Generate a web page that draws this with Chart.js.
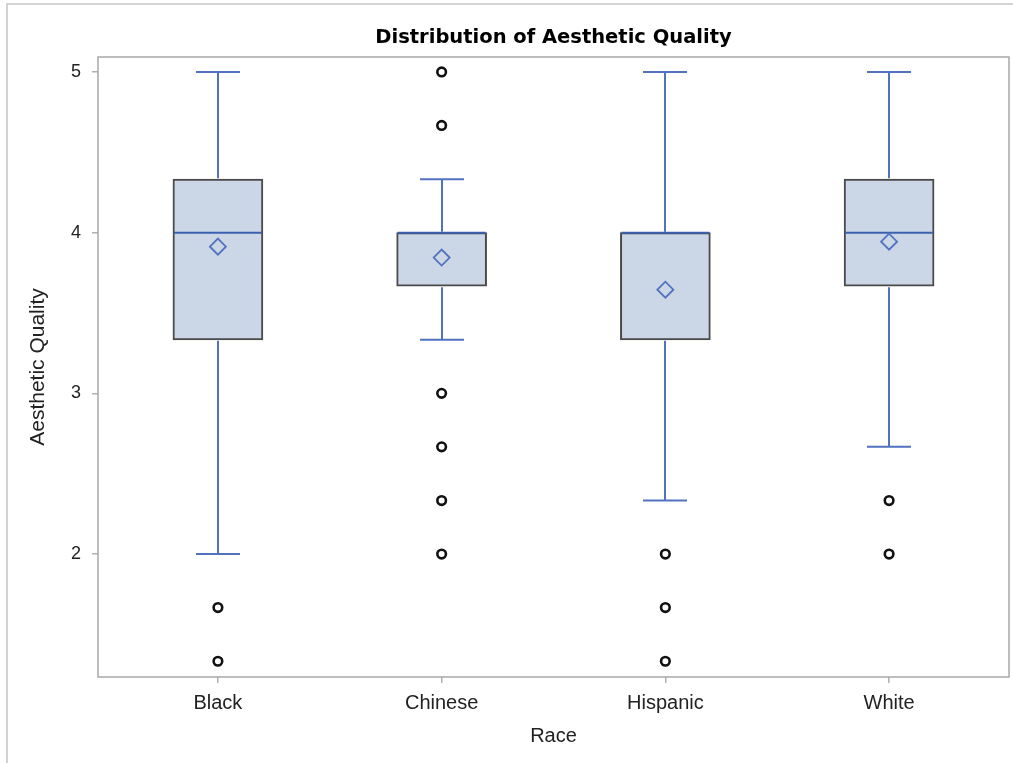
<!DOCTYPE html>
<html>
<head>
<meta charset="utf-8">
<title>Distribution of Aesthetic Quality</title>
<script src="https://cdn.jsdelivr.net/npm/chart.js@4"></script>
<style>
  html, body { margin: 0; padding: 0; background: #ffffff; overflow: hidden; }
  #wrap { width: 1013px; height: 763px; position: relative; }
</style>
</head>
<body>
<div id="wrap"><canvas id="chart"></canvas></div>
<script>
// Box-plot summary per group
const categories  = ['Black', 'Chinese', 'Hispanic', 'White'];
const whiskerLow  = [2.000, 3.333, 2.333, 2.667];
const q1          = [3.333, 3.667, 3.333, 3.667];
const median      = [4.000, 4.000, 4.000, 4.000];
const q3          = [4.333, 4.000, 4.000, 4.333];
const whiskerHigh = [5.000, 4.333, 5.000, 5.000];
const means       = [3.913, 3.845, 3.645, 3.944];
const outliers    = [
  [1.667, 1.333],
  [5.000, 4.667, 3.000, 2.667, 2.333, 2.000],
  [2.000, 1.667, 1.333],
  [2.333, 2.000]
];
const yTicks = [2, 3, 4, 5];

const FONT = "'Liberation Sans', Arial, sans-serif";
const TITLE_FONT = "'DejaVu Sans', Verdana, sans-serif";
const BLUE = '#5272c0';
const MEDIAN_BLUE = '#3d5fb0';

const boxData = categories.map((c, i) => ({ x: i, y: [q1[i], q3[i]] }));
const meanData = categories.map((c, i) => ({ x: i, y: means[i] }));
const outlierData = [];
outliers.forEach((list, i) => list.forEach(v => outlierData.push({ x: i, y: v })));

// Whiskers, caps and medians drawn on top of the boxes
const boxParts = {
  id: 'boxParts',
  afterDatasetDraw(chart, args) {
    if (args.index !== 0) return;
    const { ctx, scales: { x, y } } = chart;
    const halfCap = 22, halfBox = 45;
    ctx.save();
    ctx.lineWidth = 2;
    ctx.strokeStyle = BLUE;
    categories.forEach((c, i) => {
      const cx = Math.round(x.getPixelForValue(i));
      const pHi = y.getPixelForValue(whiskerHigh[i]);
      const pQ3 = y.getPixelForValue(q3[i]);
      const pQ1 = y.getPixelForValue(q1[i]);
      const pLo = y.getPixelForValue(whiskerLow[i]);
      ctx.beginPath();
      ctx.moveTo(cx, pQ3 - 1); ctx.lineTo(cx, pHi);
      ctx.moveTo(cx - halfCap, pHi); ctx.lineTo(cx + halfCap, pHi);
      ctx.moveTo(cx, pQ1 + 1); ctx.lineTo(cx, pLo);
      ctx.moveTo(cx - halfCap, pLo); ctx.lineTo(cx + halfCap, pLo);
      ctx.stroke();
    });
    ctx.strokeStyle = MEDIAN_BLUE;
    categories.forEach((c, i) => {
      const cx = x.getPixelForValue(i);
      const pM = y.getPixelForValue(median[i]);
      ctx.beginPath();
      ctx.moveTo(cx - halfBox + 1, pM); ctx.lineTo(cx + halfBox - 1, pM);
      ctx.stroke();
    });
    ctx.restore();
  }
};

// Plot frame and the outer panel border
const frames = {
  id: 'frames',
  beforeDraw(chart) {
    const { ctx } = chart;
    ctx.save();
    ctx.strokeStyle = '#d3d3d3';
    ctx.lineWidth = 2;
    ctx.beginPath();
    ctx.moveTo(1013, 4); ctx.lineTo(7, 4); ctx.lineTo(7, 763);
    ctx.stroke();
    ctx.restore();
  },
  beforeDatasetsDraw(chart) {
    const { ctx, chartArea: a } = chart;
    ctx.save();
    ctx.strokeStyle = '#a8a8a8';
    ctx.lineWidth = 1.5;
    ctx.strokeRect(a.left, a.top, a.right - a.left, a.bottom - a.top);
    ctx.restore();
  }
};

new Chart(document.getElementById('chart'), {
  type: 'bar',
  data: {
    datasets: [
      {
        type: 'bar',
        data: boxData,
        backgroundColor: '#cbd6e6',
        borderColor: '#4a4a4a',
        borderWidth: 2,
        borderSkipped: false,
        barThickness: 90,
        order: 3
      },
      {
        type: 'scatter',
        data: meanData,
        pointStyle: 'rectRot',
        pointRadius: 8,
        pointBorderWidth: 1.8,
        pointBorderColor: BLUE,
        pointBackgroundColor: 'rgba(0,0,0,0)',
        order: 1
      },
      {
        type: 'scatter',
        data: outlierData,
        pointStyle: 'circle',
        pointRadius: 4.3,
        pointBorderWidth: 2.6,
        pointBorderColor: '#111111',
        pointBackgroundColor: '#ffffff',
        order: 2
      }
    ]
  },
  options: {
    responsive: true,
    maintainAspectRatio: false,
    animation: false,
    layout: { autoPadding: false, padding: { top: 0, left: 0, right: 4, bottom: 0 } },
    plugins: {
      legend: { display: false },
      tooltip: { enabled: false },
      title: {
        display: true,
        fullSize: false,
        text: 'Distribution of Aesthetic Quality',
        color: '#000000',
        font: { family: TITLE_FONT, size: 19.5, weight: 'bold', lineHeight: 1.2 },
        padding: { top: 26.3, bottom: 7.3 }
      }
    },
    scales: {
      x: {
        type: 'linear',
        min: -0.536,
        max: 3.536,
        offset: false,
        afterBuildTicks(scale) { scale.ticks = categories.map((c, i) => ({ value: i })); },
        afterFit(scale) { scale.height = 86; scale.paddingLeft = 0; scale.paddingRight = 0; },
        ticks: {
          callback: (v) => categories[v],
          color: '#222222',
          font: { family: FONT, size: 20 },
          padding: 8,
          maxRotation: 0,
          autoSkip: false
        },
        grid: { offset: false, drawOnChartArea: false, drawTicks: true, tickLength: 6, color: '#b0b0b0', lineWidth: 1.5 },
        border: { display: false },
        title: {
          display: true,
          text: 'Race',
          color: '#222222',
          font: { family: FONT, size: 20 },
          padding: { top: 0, bottom: 15 }
        }
      },
      y: {
        type: 'linear',
        min: 1.235,
        max: 5.093,
        afterBuildTicks(scale) { scale.ticks = yTicks.map(v => ({ value: v })); },
        afterFit(scale) { scale.width = 98; },
        ticks: {
          color: '#222222',
          font: { family: FONT, size: 18 },
          padding: 11
        },
        grid: { drawOnChartArea: false, drawTicks: true, tickLength: 6, color: '#b0b0b0', lineWidth: 1.5 },
        border: { display: false },
        title: {
          display: true,
          text: 'Aesthetic Quality',
          color: '#222222',
          font: { family: FONT, size: 21 },
          padding: { top: 25.5, bottom: 0 }
        }
      }
    }
  },
  plugins: [frames, boxParts]
});
</script>
</body>
</html>
